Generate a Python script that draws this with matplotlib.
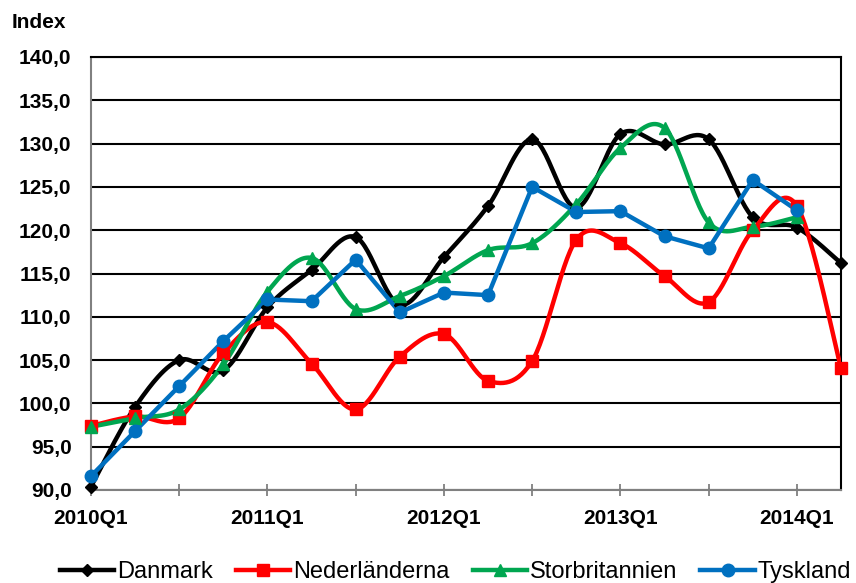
import numpy as np
import matplotlib
matplotlib.use("Agg")
import matplotlib.pyplot as plt
from matplotlib.lines import Line2D

quarters = ["2010Q1", "2010Q2", "2010Q3", "2010Q4",
            "2011Q1", "2011Q2", "2011Q3", "2011Q4",
            "2012Q1", "2012Q2", "2012Q3", "2012Q4",
            "2013Q1", "2013Q2", "2013Q3", "2013Q4",
            "2014Q1", "2014Q2"]

danmark = [90.4, 99.6, 105.0, 103.8, 111.1, 115.4, 119.2, 111.4, 116.9,
           122.8, 130.5, 122.6, 131.1, 129.9, 130.5, 121.5, 120.3, 116.2]
nederlanderna = [97.4, 98.5, 98.3, 105.8, 109.4, 104.6, 99.3, 105.4, 108.0,
                 102.6, 104.9, 118.9, 118.5, 114.7, 111.7, 120.0, 122.8, 104.1]
storbritannien = [97.3, 98.3, 99.3, 104.5, 112.9, 116.8, 110.9, 112.4, 114.7,
                  117.7, 118.5, 123.0, 129.5, 131.8, 120.9, 120.4, 121.5]
tyskland = [91.6, 96.8, 102.0, 107.2, 112.0, 111.8, 116.6, 110.5, 112.8,
            112.5, 125.0, 122.1, 122.2, 119.3, 117.9, 125.8, 122.3]

yticks = [90, 95, 100, 105, 110, 115, 120, 125, 130, 135, 140]
xlabel_quarters = ["2010Q1", "2011Q1", "2012Q1", "2013Q1", "2014Q1"]


def smooth(y, n=30):
    """Excel-like smoothed line (Catmull-Rom through bezier control points)."""
    y = np.asarray(y, float)
    x = np.arange(len(y), dtype=float)
    P = np.column_stack([x, y])
    out = [P[0]]
    t = np.linspace(0, 1, n)[1:, None]
    for i in range(len(P) - 1):
        p0 = P[i - 1] if i > 0 else P[i]
        p1, p2 = P[i], P[i + 1]
        p3 = P[i + 2] if i + 2 < len(P) else P[i + 1]
        c1 = p1 + (p2 - p0) / 6.0
        c2 = p2 - (p3 - p1) / 6.0
        seg = ((1 - t) ** 3) * p1 + 3 * ((1 - t) ** 2) * t * c1 + 3 * (1 - t) * t ** 2 * c2 + t ** 3 * p2
        out.extend(seg)
    out = np.array(out)
    return out[:, 0], out[:, 1]


fig = plt.figure(figsize=(8.56, 5.83), dpi=100)
ax = fig.add_axes([91 / 856, 1 - 490 / 583, 750 / 856, 433 / 583])

series = [
    ("Danmark", danmark, "black", "D", 6, True),
    ("Nederländerna", nederlanderna, "#ff0000", "s", 8, True),
    ("Storbritannien", storbritannien, "#00a650", "^", 8, True),
    ("Tyskland", tyskland, "#0070c0", "o", 9, False),
]

lw = 3.2
for name, vals, col, mk, ms, sm in series:
    x = np.arange(len(vals))
    if sm:
        xs, ys = smooth(vals)
    else:
        xs, ys = x, np.asarray(vals)
    ax.plot(xs, ys, color=col, lw=lw, solid_capstyle="round", zorder=3)
    ax.plot(x, vals, linestyle="none", marker=mk, color=col, ms=ms, zorder=4,
            clip_on=False)

ax.set_xlim(0, 17)
ax.set_ylim(90, 140)
ax.set_yticks(yticks)
ax.set_yticklabels([f"{v:.1f}".replace(".", ",") for v in yticks],
                   fontsize=15, fontweight="bold", family="Liberation Sans")
ax.yaxis.grid(True, color="black", lw=1.5)
ax.set_axisbelow(True)
ax.tick_params(axis="y", length=0, pad=14)

ax.set_xticks(np.arange(0, 18, 2))
ax.set_xticklabels([])
pos_major = [quarters.index(q) for q in xlabel_quarters]
for p, q in zip(pos_major, xlabel_quarters):
    ax.text(p, 87.8, q, ha="center", va="top", fontsize=15, fontweight="bold",
            family="Liberation Sans", transform=ax.transData)
ax.tick_params(axis="x", direction="inout", length=9, width=1.3, color="#808080")

for s in ["left", "bottom"]:
    ax.spines[s].set_color("#808080")
    ax.spines[s].set_linewidth(1.5)
for s in ["right", "top"]:
    ax.spines[s].set_color("black")
    ax.spines[s].set_linewidth(1.5)

fig.text(12 / 856, 1 - 22 / 583, "Index", fontsize=15, fontweight="bold",
         family="Liberation Sans", va="center", ha="left")

handles = [Line2D([0], [0], color=c, lw=lw, marker=m, ms=ms)
           for _, _, c, m, ms, _ in series]
labels = [s[0] for s in series]
fig.legend(handles, labels, loc="center", bbox_to_anchor=(0.532, 1 - 572 / 583),
           ncol=4, frameon=False, handlelength=2.3, handletextpad=0.1,
           columnspacing=1.0, borderpad=0, borderaxespad=0,
           prop={"family": "Liberation Sans", "size": 17})

fig.savefig("out.png", dpi=100)
